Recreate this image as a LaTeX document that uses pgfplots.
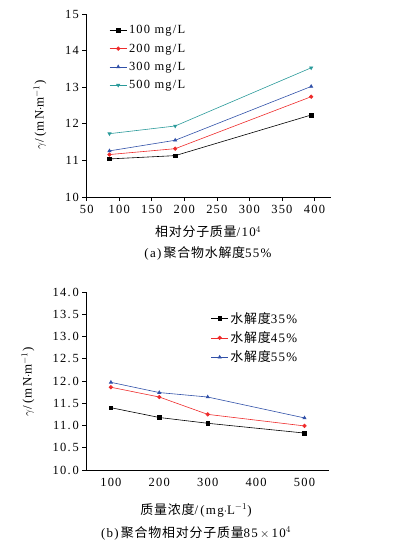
\documentclass[border=0pt]{standalone}
\usepackage{pgfplots}
\pgfplotsset{compat=1.18}
\usepackage{fontspec}
\setmainfont[LetterSpace=10]{Liberation Serif}
\newfontfamily\cjk[LetterSpace=6]{Noto Sans CJK SC}
\definecolor{cRed}{HTML}{EE2B2B}
\definecolor{cBlue}{HTML}{3050A8}
\definecolor{cTeal}{HTML}{2A9A9A}
\pgfplotsset{
  every axis/.append style={
    scale only axis,
    axis x line*=bottom, axis y line*=left,
    tick align=outside,
    tick style={black, line width=0.6pt},
    axis line style={line width=0.7pt},
    ticklabel style={font=\fontsize{12.5}{13}\selectfont},
    /pgf/number format/assume math mode=true,
    legend style={draw=none, fill=none, font=\fontsize{12.5}{13}\selectfont, row sep=4.5pt},
    legend cell align=left,
    every axis plot/.append style={line width=0.6pt, mark size=1.8pt},
  }
}
\begin{document}
\begin{tikzpicture}
\useasboundingbox (0bp,0bp) rectangle (398bp,548bp);
\begin{axis}[
  at={(86.7bp,351bp)}, anchor=south west,
  width=244bp, height=183bp,
  xmin=50, xmax=425, ymin=10, ymax=15,
  xtick={50,100,...,400}, ytick={10,11,...,15},
  legend style={at={(0.08,0.96)}, anchor=north west},
]
\addplot[black, mark=square*] coordinates {(85,11.04) (186,11.13) (395,12.24)};
\addlegendentry{100 mg/L}
\addplot[cRed, mark=*] coordinates {(85,11.16) (186,11.32) (395,12.74)};
\addlegendentry{200 mg/L}
\addplot[cBlue, mark=triangle*] coordinates {(85,11.26) (186,11.55) (395,13.02)};
\addlegendentry{300 mg/L}
\addplot[cTeal, mark=triangle*, mark options={rotate=180}] coordinates {(85,11.73) (186,11.94) (395,13.53)};
\addlegendentry{500 mg/L}
\end{axis}
\node[rotate=90, font=\fontsize{13}{14}\selectfont] at (40bp,433bp) {$\gamma$/\,(mN$\cdot$m$^{-1}$)};
\node[font=\fontsize{13}{14}\selectfont] at (208bp,316bp) {{\cjk 相对分子质量}/10$^{4}$};
\node[font=\fontsize{13}{14}\selectfont] at (208bp,295bp) {(a)\,{\cjk 聚合物水解度}55\%};
\begin{axis}[
  at={(86.7bp,78bp)}, anchor=south west,
  width=242bp, height=178bp,
  xmin=50, xmax=550, ymin=10, ymax=14,
  xtick={100,200,...,500}, ytick={10,10.5,...,14},
  yticklabels={10.\,0,10.\,5,11.\,0,11.\,5,12.\,0,12.\,5,13.\,0,13.\,5,14.\,0},
  xtick style={draw=none},
  legend style={at={(0.50,0.91)}, anchor=north west, font=\fontsize{13}{14}\selectfont, row sep=3pt},
]
\addplot[black, mark=square*] coordinates {(100,11.40) (200,11.18) (300,11.05) (500,10.83)};
\addlegendentry{{\cjk 水解度}35\%}
\addplot[cRed, mark=*] coordinates {(100,11.86) (200,11.64) (300,11.25) (500,10.99)};
\addlegendentry{{\cjk 水解度}45\%}
\addplot[cBlue, mark=triangle*] coordinates {(100,11.97) (200,11.74) (300,11.64) (500,11.17)};
\addlegendentry{{\cjk 水解度}55\%}
\end{axis}
\node[rotate=90, font=\fontsize{13}{14}\selectfont] at (28bp,166bp) {$\gamma$/\,(mN$\cdot$m$^{-1}$)};
\node[font=\fontsize{13}{14}\selectfont] at (196bp,38bp) {{\cjk 质量浓度}/\,(mg$\cdot$L$^{-1}$)};
\node[font=\fontsize{13}{14}\selectfont] at (196bp,15bp) {(b)\,{\cjk 聚合物相对分子质量}85\,$\times$\,10$^{4}$};
\end{tikzpicture}
\end{document}
